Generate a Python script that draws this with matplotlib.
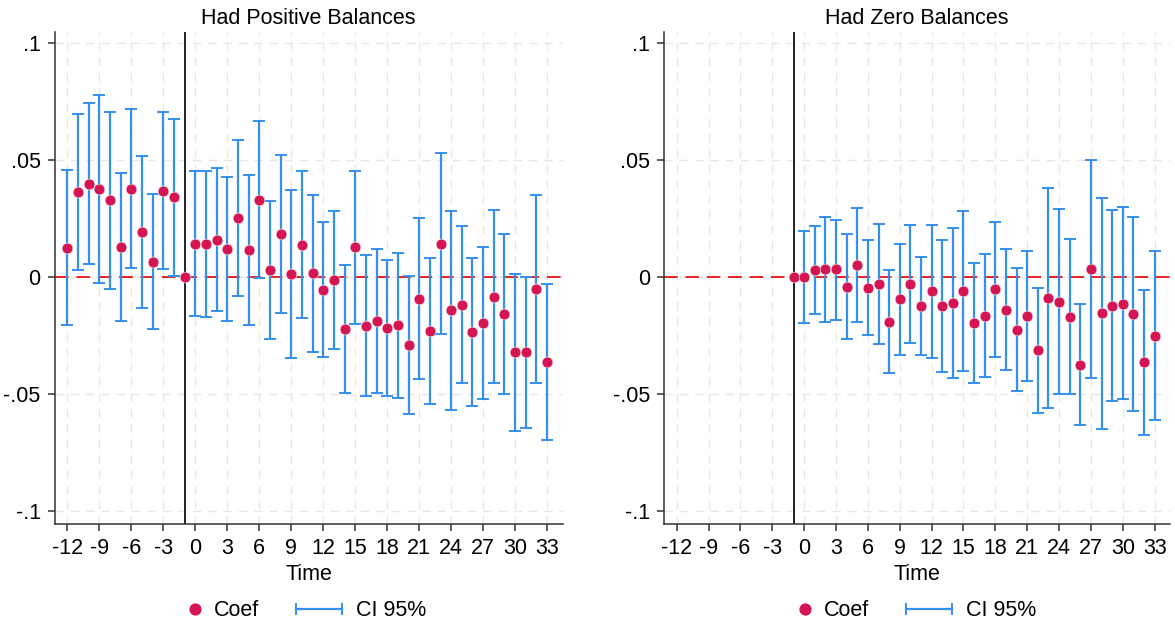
import numpy as np
import matplotlib
matplotlib.use("Agg")
import matplotlib.pyplot as plt
from matplotlib.lines import Line2D
from matplotlib.legend_handler import HandlerLine2D

plt.rcParams['font.family'] = ['Liberation Sans', 'DejaVu Sans']

# ---- data: Had Positive Balances ----
time_pos = list(range(-12, 34))
coef_pos = [0.0125, 0.0363, 0.0399, 0.0376, 0.0328, 0.0129, 0.0377, 0.0191, 0.0065, 0.0369, 0.0340,
            0.0,
            0.0142, 0.0139, 0.0160, 0.0118, 0.0250, 0.0115, 0.0328, 0.0030, 0.0184, 0.0011,
            0.0138, 0.0016, -0.0055, -0.0014, -0.0223, 0.0128, -0.0209, -0.0189, -0.0218, -0.0207,
            -0.0291, -0.0092, -0.0231, 0.0143, -0.0142, -0.0119, -0.0237, -0.0197, -0.0085, -0.0157,
            -0.0321, -0.0321, -0.0051, -0.0363]
hi_pos = [0.0458, 0.0696, 0.0742, 0.0777, 0.0706, 0.0444, 0.0718, 0.0515, 0.0353, 0.0704, 0.0675,
          np.nan,
          0.0451, 0.0451, 0.0467, 0.0427, 0.0586, 0.0437, 0.0668, 0.0326, 0.0522, 0.0370,
          0.0455, 0.0349, 0.0234, 0.0282, 0.0050, 0.0452, 0.0094, 0.0118, 0.0072, 0.0103,
          0.0006, 0.0254, 0.0080, 0.0531, 0.0282, 0.0217, 0.0080, 0.0128, 0.0285, 0.0183,
          0.0014, 0.0001, 0.0350, -0.0030]
lo_pos = [-0.0207, 0.0030, 0.0055, -0.0024, -0.0050, -0.0186, 0.0037, -0.0131, -0.0221, 0.0035, 0.0004,
          np.nan,
          -0.0166, -0.0173, -0.0145, -0.0190, -0.0082, -0.0207, -0.0006, -0.0264, -0.0156, -0.0346,
          -0.0177, -0.0319, -0.0342, -0.0309, -0.0495, -0.0200, -0.0509, -0.0494, -0.0509, -0.0516,
          -0.0586, -0.0437, -0.0543, -0.0244, -0.0567, -0.0455, -0.0553, -0.0522, -0.0454, -0.0498,
          -0.0657, -0.0644, -0.0452, -0.0698]

# ---- data: Had Zero Balances ----
time_zero = list(range(-1, 34))
coef_zero = [0.0, 0.0000, 0.0030, 0.0033, 0.0033, -0.0041, 0.0050, -0.0045, -0.0031, -0.0191, -0.0096,
             -0.0031, -0.0123, -0.0062, -0.0125, -0.0112, -0.0062, -0.0197, -0.0166, -0.0052, -0.0140,
             -0.0226, -0.0167, -0.0314, -0.0091, -0.0105, -0.0170, -0.0374, 0.0035, -0.0156, -0.0122,
             -0.0114, -0.0157, -0.0365, -0.0252]
hi_zero = [np.nan, 0.0197, 0.0218, 0.0255, 0.0245, 0.0183, 0.0294, 0.0160, 0.0227, 0.0028, 0.0140,
           0.0223, 0.0085, 0.0224, 0.0159, 0.0211, 0.0280, 0.0061, 0.0097, 0.0235, 0.0119,
           0.0037, 0.0109, -0.0045, 0.0379, 0.0289, 0.0163, -0.0115, 0.0499, 0.0339, 0.0287,
           0.0297, 0.0258, -0.0054, 0.0109]
lo_zero = [np.nan, -0.0196, -0.0160, -0.0191, -0.0183, -0.0265, -0.0191, -0.0250, -0.0285, -0.0410, -0.0332,
           -0.0284, -0.0332, -0.0348, -0.0406, -0.0433, -0.0403, -0.0452, -0.0427, -0.0340, -0.0399,
           -0.0486, -0.0444, -0.0582, -0.0559, -0.0498, -0.0502, -0.0631, -0.0430, -0.0651, -0.0532,
           -0.0522, -0.0573, -0.0677, -0.0610]

titles = ["Had Positive Balances", "Had Zero Balances"]
xticks = list(range(-12, 34, 3))
yticks = [-0.1, -0.05, 0, 0.05, 0.1]
yticklabels = ["-.1", "-.05", "0", ".05", ".1"]
ref_period = -1

DOT = '#d31552'
CI = '#3490ee'
AX = '#333333'
FS = 15.5


class RightMarkerHandler(HandlerLine2D):
    """Single marker placed near the right end of the handle box."""
    def get_xdata(self, legend, xdescent, ydescent, width, height, fontsize):
        xdata = np.array([-xdescent + 0.6 * width, -xdescent + width])
        xdata_marker = np.array([-xdescent + 0.8 * width])
        return xdata, xdata_marker


fig = plt.figure(figsize=(11.75, 6.27), dpi=100)
positions = [[0.0464, 0.1645, 0.4324, 0.7845], [0.5651, 0.1645, 0.4307, 0.7845]]
legend_centers = [0.2442, 0.7634]
panels = [(time_pos, coef_pos, lo_pos, hi_pos), (time_zero, coef_zero, lo_zero, hi_zero)]

for pos, lc, (t, c, lo, hi), title in zip(positions, legend_centers, panels, titles):
    ax = fig.add_axes(pos)
    t = np.array(t, dtype=float)
    c = np.array(c, dtype=float)
    lo = np.array(lo, dtype=float)
    hi = np.array(hi, dtype=float)
    ax.set_xlim(-13.2, 34.45)
    ax.set_ylim(-0.1055, 0.1047)
    ax.set_xticks(xticks)
    ax.set_xticklabels([str(v) for v in xticks], fontsize=FS)
    ax.set_yticks(yticks)
    ax.set_yticklabels(yticklabels, fontsize=FS)
    ax.grid(True, color='#e6e6e6', linestyle=(0, (6, 5)), linewidth=1.0, zorder=0)
    ax.set_axisbelow(True)
    for s in ['top', 'right']:
        ax.spines[s].set_visible(False)
    for s in ['left', 'bottom']:
        ax.spines[s].set_color(AX)
        ax.spines[s].set_linewidth(1.1)
    ax.tick_params(axis='both', colors=AX, length=5, width=1.1, labelcolor='black', pad=5)
    ax.axhline(0, color='#e8231f', linestyle=(0, (7, 4)), linewidth=1.4, zorder=1)
    ax.axvline(ref_period, color='#222222', linewidth=1.4, zorder=2)
    mask = ~np.isnan(lo)
    ax.errorbar(t[mask], c[mask], yerr=[c[mask] - lo[mask], hi[mask] - c[mask]], fmt='none',
                ecolor=CI, elinewidth=1.6, capsize=4.2, capthick=1.4, zorder=3)
    ax.plot(t, c, 'o', color=DOT, markersize=7.8, markeredgecolor='white', markeredgewidth=0.4, zorder=4)
    ax.set_title(title, fontsize=FS, pad=6)
    ax.set_xlabel("Time", fontsize=FS, labelpad=4)

    h_coef = Line2D([], [], marker='o', linestyle='none', color=DOT, markersize=7.8)
    h_ci = Line2D([], [], marker='|', color=CI, linewidth=1.6, markersize=8, markeredgewidth=1.4)
    fig.legend([h_coef, h_ci], ["Coef", "CI 95%"], loc='center', bbox_to_anchor=(lc, 0.026),
               ncol=2, frameon=False, fontsize=FS, handlelength=2.75, handletextpad=0.35,
               columnspacing=1.4,
               handler_map={h_ci: HandlerLine2D(numpoints=2), h_coef: RightMarkerHandler()})

fig.savefig("out.png", dpi=100)
